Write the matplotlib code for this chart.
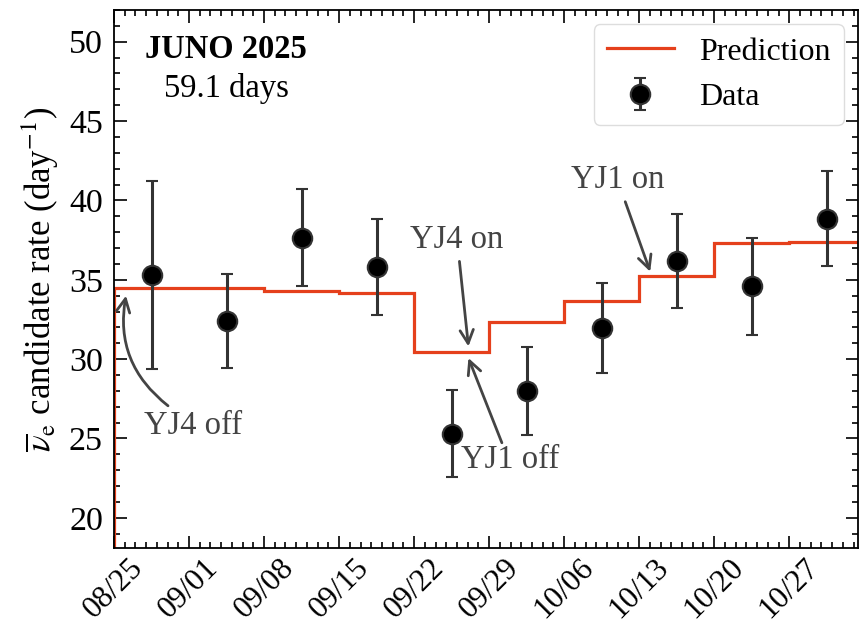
import numpy as np
import matplotlib
matplotlib.use('Agg')
import matplotlib.pyplot as plt
import matplotlib.dates as mdates
from matplotlib.ticker import MultipleLocator

plt.rcParams['font.family'] = ['Liberation Serif', 'DejaVu Serif']
plt.rcParams['mathtext.fontset'] = 'stix'

# weekly bins (prediction) and data points at the middle of each week
bin_edges = ['2025-08-25', '2025-09-01', '2025-09-08', '2025-09-15', '2025-09-22',
             '2025-09-29', '2025-10-06', '2025-10-13', '2025-10-20', '2025-10-27',
             '2025-11-03']
pred_rate = [34.48, 34.48, 34.31, 34.17, 30.47, 32.31, 33.64, 35.26, 37.32, 37.38]

data_dates = ['2025-08-28T12:00', '2025-09-04T12:00', '2025-09-11T12:00',
              '2025-09-18T12:00', '2025-09-25T12:00', '2025-10-02T12:00',
              '2025-10-09T12:00', '2025-10-16T12:00', '2025-10-23T12:00',
              '2025-10-30T12:00']
data_rate = [35.3, 32.4, 37.65, 35.8, 25.3, 28.0, 31.95, 36.2, 34.6, 38.85]
data_err = [5.95, 2.95, 3.07, 3.0, 2.73, 2.78, 2.84, 2.96, 3.06, 3.0]

tick_dates = ['2025-08-25', '2025-09-01', '2025-09-08', '2025-09-15', '2025-09-22',
              '2025-09-29', '2025-10-06', '2025-10-13', '2025-10-20', '2025-10-27']
tick_labels = ['08/25', '09/01', '09/08', '09/15', '09/22',
               '09/29', '10/06', '10/13', '10/20', '10/27']

d2n = lambda s: mdates.date2num(np.datetime64(s))
edges = np.array([d2n(s) for s in bin_edges])
xd = np.array([d2n(s) for s in data_dates])
t0 = d2n('2025-08-25')

red = '#e5401c'
grey = '#444444'

fig = plt.figure(figsize=(8.61, 6.32), dpi=100)
ax = fig.add_axes([114/861, 1-548/632, (858-114)/861, (548-10)/632])

ax.stairs(pred_rate, edges, color=red, lw=2.3, label='Prediction', zorder=2)
ax.errorbar(xd, data_rate, yerr=data_err, fmt='o', color='black', ms=14,
            mec='#333333', mew=1.5, ecolor='#333333', elinewidth=2.2,
            capsize=4, capthick=2, label='Data', zorder=3)

ax.set_xlim(t0, d2n('2025-11-02T10:00'))
ax.set_ylim(18.1, 52)
ax.set_xticks([d2n(s) for s in tick_dates])
ax.set_xticklabels(tick_labels, rotation=45)
ax.xaxis.set_minor_locator(MultipleLocator(1))
ax.yaxis.set_major_locator(MultipleLocator(5))
ax.yaxis.set_minor_locator(MultipleLocator(1))
ax.tick_params(which='both', direction='in', top=True, right=True, width=1.2)
ax.tick_params(which='major', length=9)
ax.tick_params(which='minor', length=4.5)
ax.tick_params(axis='y', which='major', labelsize=24.5, pad=8)
ax.tick_params(axis='x', which='major', labelsize=22.5, pad=4)
for sp in ax.spines.values():
    sp.set_linewidth(1.3)

ax.set_ylabel(r'$\overline{\nu}_\mathrm{e}$ candidate rate (day$^{-1}$)', fontsize=25,
              labelpad=6)

ax.text(0.1505, 0.926, 'JUNO 2025', transform=ax.transAxes, ha='center', va='center',
        fontsize=23.5, fontweight='bold')
ax.text(0.1505, 0.855, '59.1 days', transform=ax.transAxes, ha='center', va='center',
        fontsize=23.5)

# annotations (text, arrow tail, arrow head), x in days since 08/25
notes = [
    ('YJ4 off', (7.37, 25.8), (5.04, 27.06), (1.12, 34.0), -0.3),
    ('YJ4 on', (31.99, 37.52), (32.23, 36.16), (33.07, 30.8), 0.0),
    ('YJ1 off', (36.96, 23.66), (36.19, 24.73), (33.07, 30.07), 0.0),
    ('YJ1 on', (47.04, 41.3), (47.7, 39.92), (50.03, 35.51), 0.0),
]
for txt, tpos, tail, head, rad in notes:
    ax.text(t0 + tpos[0], tpos[1], txt, color=grey, fontsize=23.5,
            ha='center', va='center')
    ax.annotate('', xy=(t0 + head[0], head[1]), xytext=(t0 + tail[0], tail[1]),
                arrowprops=dict(arrowstyle='->', color=grey, lw=2,
                                mutation_scale=24, shrinkA=0, shrinkB=0,
                                connectionstyle='arc3,rad=%s' % rad))

leg = ax.legend(loc='upper right', fontsize=23, fancybox=True, framealpha=1,
                edgecolor='#dddddd', handlelength=2.1, borderaxespad=0.45)

fig.savefig('out.png', dpi=100)
